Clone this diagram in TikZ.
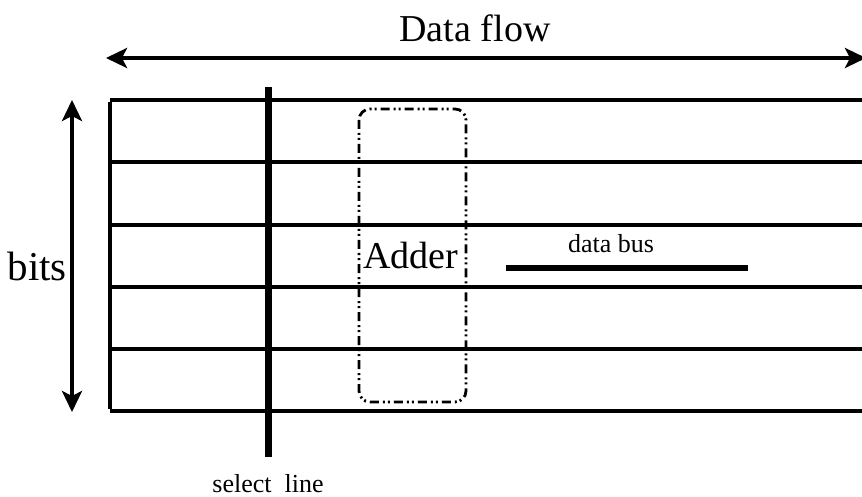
\documentclass[tikz,border=0pt]{standalone}
\usepackage{fontspec}
\setmainfont{Liberation Serif}
\usetikzlibrary{arrows.meta}
\begin{document}
\begin{tikzpicture}[x=1pt,y=-1pt,
  rule/.style={line width=3.8pt},
  dblarrow/.style={line width=3.8pt,{Stealth[length=21pt,width=20pt,inset=5pt]}-{Stealth[length=21pt,width=20pt,inset=5pt]}},
  bigtext/.style={font=\fontsize{38}{41}\selectfont,inner sep=0pt},
  smalltext/.style={font=\fontsize{26}{29}\selectfont,inner sep=0pt},
  adderbox/.style={line width=2.8pt,rounded corners=11pt,
    dash pattern=on 9pt off 4pt on 2pt off 3pt on 2pt off 4pt}]
  \useasboundingbox (0,0) rectangle (862,497);
  \clip (0,0) rectangle (862,497);

  % data-flow arrow and its label
  \coordinate (dfL) at (106,58);
  \coordinate (dfR) at (866,58);
  \draw[dblarrow] (dfL) -- (dfR);
  \node[bigtext,anchor=base] (dflow) at (475,42) {Data flow};

  % bit rows of the datapath
  \foreach \i/\y in {0/100,1/162,2/225,3/287,4/349,5/411}{
    \coordinate (rL\i) at (110,\y);
    \coordinate (rR\i) at (866,\y);
    \draw[rule] (rL\i) -- (rR\i);
  }
  \draw[rule] ([yshift=-1.9pt]rL0) -- ([yshift=1.9pt]rL5);

  % bits arrow and its label
  \coordinate (btT) at (72,100);
  \coordinate (btB) at (72,412);
  \draw[dblarrow] (btT) -- (btB);
  \node[font=\fontsize{41}{44}\selectfont,inner sep=0pt,anchor=base east] (bits) at (67,280) {bits};

  % select line
  \coordinate (slT) at (268,87);
  \coordinate (slB) at (268,457);
  \draw[line width=7pt] (slT) -- (slB);
  \node[smalltext,text depth=0pt,anchor=base] (sel) at (268,492) {select\ \ line};

  % adder slice
  \draw[adderbox] (359,109) rectangle (466,402);
  \node[bigtext,anchor=base] (adder) at (411,268) {Adder};

  % data bus
  \coordinate (dbL) at (506,268);
  \coordinate (dbR) at (748,268);
  \draw[line width=6pt] (dbL) -- (dbR);
  \node[smalltext,anchor=base] (dbus) at (611,252) {data bus};
\end{tikzpicture}
\end{document}
